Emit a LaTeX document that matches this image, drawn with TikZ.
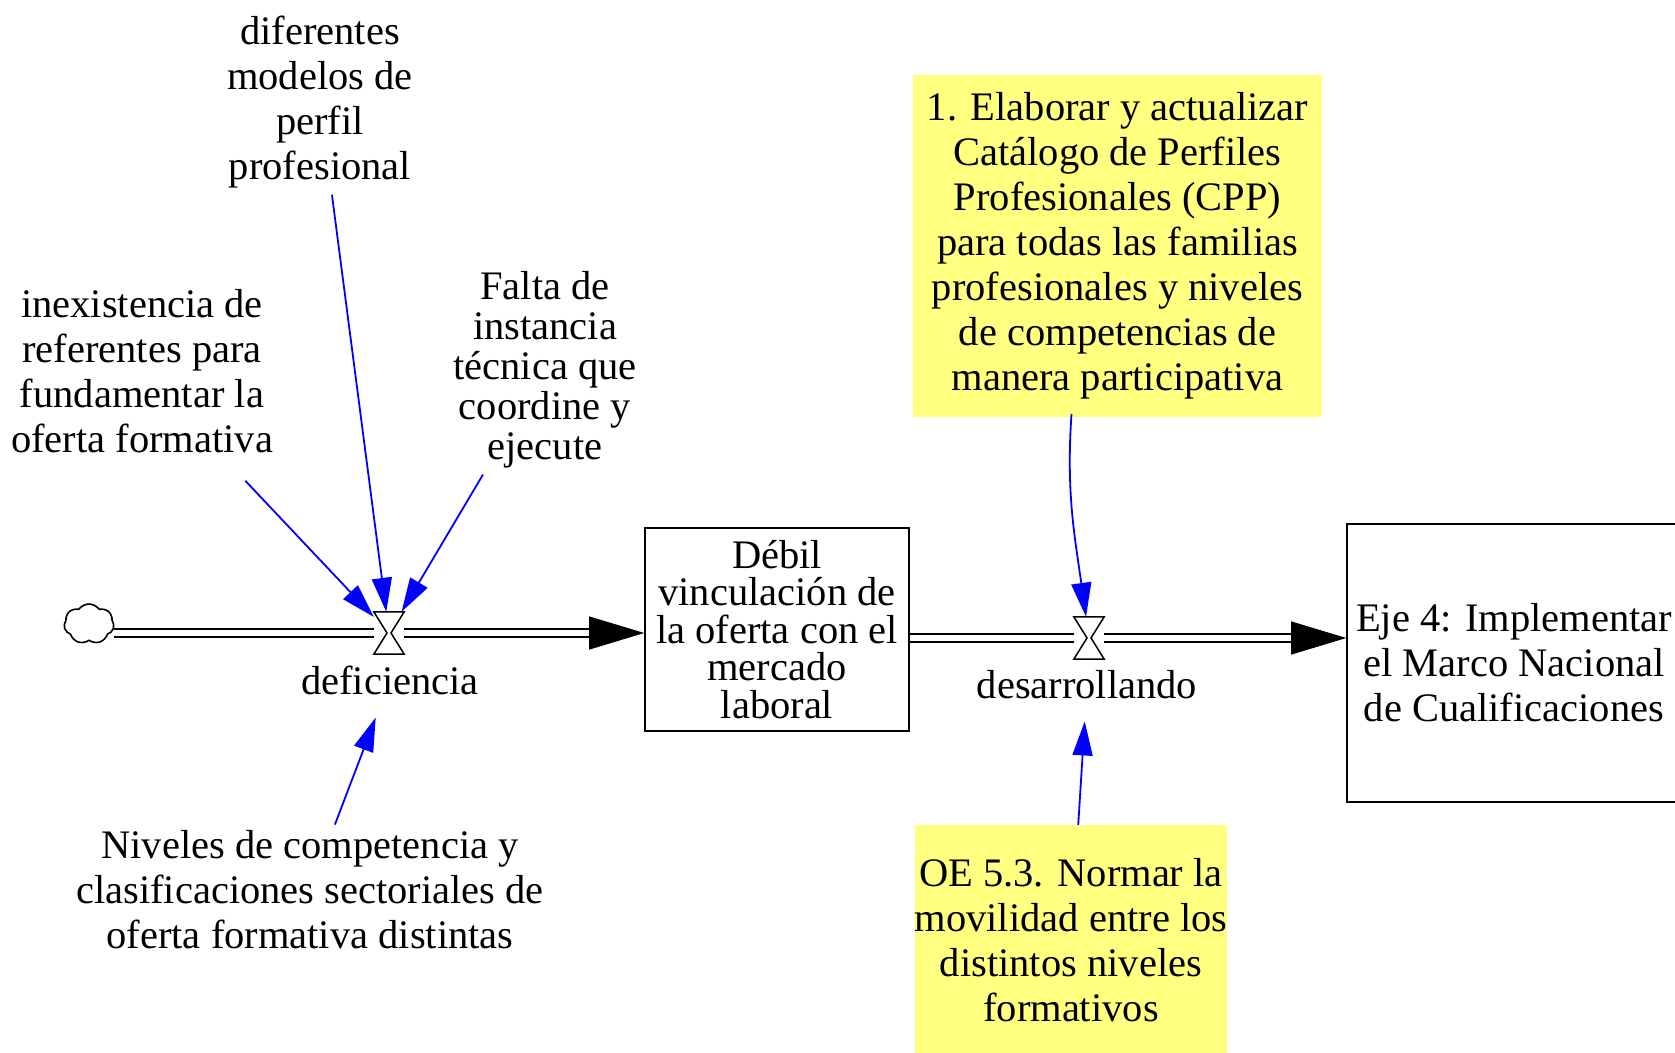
\documentclass[tikz,border=0pt]{standalone}
\usepackage{fontspec}
\setmainfont{Liberation Serif}
\usetikzlibrary{arrows.meta,shapes.symbols}
\definecolor{VSBlue}{HTML}{0000FF}
\definecolor{VSYellow}{HTML}{FFFF80}

\begin{document}
\begin{tikzpicture}[x=1pt,y=-1pt,
  var/.style={align=center,inner sep=6pt,font=\fontsize{40.5}{45}\selectfont},
  stock/.style={draw,line width=1.6pt,align=center,inner sep=0pt,font=\fontsize{40.5}{45}\selectfont},
  note/.style={fill=VSYellow,align=center,inner sep=0pt,font=\fontsize{40.5}{45}\selectfont},
  valve/.style={minimum width=30pt,minimum height=42pt,inner sep=0pt},
  pipe/.style={draw,double,double distance=6pt,line width=1.6pt},
  flowhead/.style={draw=white,line width=1pt,-{Triangle[length=55pt,width=33pt,black]}},
  infl/.style={draw=VSBlue,line width=1.8pt,-{Triangle[length=34pt,width=20pt]}}]
\useasboundingbox (0,0) rectangle (1675,1052);
% variables
\node[var] (dif) at (320,102.5) {diferentes\\modelos de\\perfil\\profesional};
\node[var] (inex) at (142,371) {inexistencia de\\referentes para\\fundamentar la\\oferta formativa};
\node[var,font=\fontsize{40.5}{40}\selectfont] (falta) at (545,370) {Falta de\\instancia\\técnica que\\coordine y\\ejecute};
\node[var] (defic) at (390,680) {deficiencia};
\node[var] (niv) at (310,890) {Niveles de competencia y\\clasificaciones sectoriales de\\oferta formativa distintas};
\node[var] (desa) at (1087,685) {desarrollando};
% stocks
\node[stock,minimum width=264pt,minimum height=203pt,font=\fontsize{40.5}{37.5}\selectfont] (deb) at (777,629.5) {Débil\\vinculación de\\la oferta con el\\mercado\\laboral};
\node[stock,minimum width=334pt,minimum height=278pt] (eje) at (1514,663) {Eje 4: Implementar\\el Marco Nacional\\de Cualificaciones};
% yellow notes
\node[note,minimum width=409pt,minimum height=342pt] (cpp) at (1117.5,246) {1. Elaborar y actualizar\\Catálogo de Perfiles\\Profesionales (CPP)\\para todas las familias\\profesionales y niveles\\de competencias de\\manera participativa};
\node[note,minimum width=308pt,minimum height=231pt] (oe) at (1071,940.5) {OE 5.3. Normar la\\movilidad entre los\\distintos niveles\\formativos};
% source, valves
\node[cloud,draw,cloud puffs=7,cloud puff arc=110,line width=1.6pt,minimum width=50pt,minimum height=40pt,inner sep=0pt] (src) at (89,624) {};
\node[valve] (v1) at (389,633) {};
\node[valve] (v2) at (1089,638) {};
% flows
\draw[pipe,shorten >=20pt] (v1 -| src.east) -- (v1) -- (v1 -| deb.west);
\draw[flowhead] (v1) -- (v1 -| deb.west);
\draw[pipe,shorten >=20pt] (v2 -| deb.east) -- (v2) -- (v2 -| eje.west);
\draw[flowhead] (v2) -- (v2 -| eje.west);
\foreach \v in {v1,v2}
  \draw[line width=1.5pt] (\v.north west) -- (\v.north east) -- ([xshift=2pt]\v.center)
    -- (\v.south east) -- (\v.south west) -- ([xshift=-2pt]\v.center) -- cycle;
% influences
\draw[infl] (dif) -- (v1);
\draw[infl,shorten <=30pt] (inex) -- (v1);
\draw[infl] (falta) -- (v1);
\draw[infl,shorten >=18pt] (niv) -- (defic);
\draw[infl,shorten >=16pt] (oe) -- (desa);
\draw[infl] ([xshift=-46pt,yshift=3pt]cpp.south) to[out=-94,in=98] (v2);
\end{tikzpicture}
\end{document}
